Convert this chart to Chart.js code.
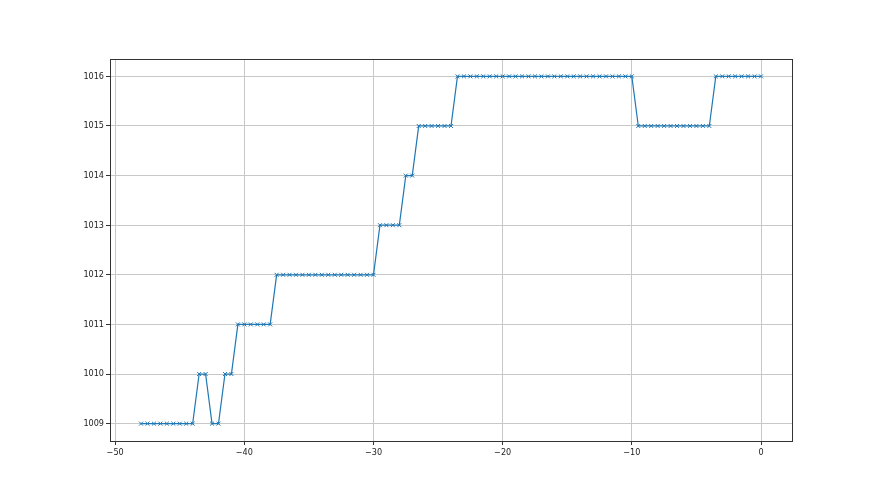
<!DOCTYPE html>
<html>
<head>
<meta charset="utf-8">
<script src="https://cdn.jsdelivr.net/npm/chart.js@4"></script>
<style>
  html, body { margin: 0; padding: 0; background: #fff; }
  canvas { display: block; }
</style>
</head>
<body>
<canvas id="line-chart" width="880" height="495"></canvas>
<script>
// hours before now, one reading every half hour
let hours = [];
for (let i = 0; i <= 96; i++) hours.push(-48 + i * 0.5);

// pressure readings (hPa)
let pressure = [
    1009, 1009, 1009, 1009, 1009, 1009, 1009, 1009, 1009,
    1010, 1010,
    1009, 1009,
    1010, 1010,
    1011, 1011, 1011, 1011, 1011, 1011,
    1012, 1012, 1012, 1012, 1012, 1012, 1012, 1012,
    1012, 1012, 1012, 1012, 1012, 1012, 1012, 1012,
    1013, 1013, 1013, 1013,
    1014, 1014,
    1015, 1015, 1015, 1015, 1015, 1015,
    1016, 1016, 1016, 1016, 1016, 1016, 1016, 1016, 1016, 1016,
    1016, 1016, 1016, 1016, 1016, 1016, 1016, 1016, 1016, 1016,
    1016, 1016, 1016, 1016, 1016, 1016, 1016, 1016,
    1015, 1015, 1015, 1015, 1015, 1015, 1015, 1015, 1015, 1015, 1015, 1015,
    1016, 1016, 1016, 1016, 1016, 1016, 1016, 1016
];

let xTicks = [-50, -40, -30, -20, -10, 0];
let yTicks = [1009, 1010, 1011, 1012, 1013, 1014, 1015, 1016];

let chart = null;

// matplotlib style frame around the plot area
const frame = {
    id: 'frame',
    afterDraw(c) {
        const a = c.chartArea;
        const ctx = c.ctx;
        ctx.save();
        ctx.strokeStyle = '#333';
        ctx.lineWidth = 1;
        ctx.strokeRect(a.left + 0.5, a.top + 0.5, a.right - a.left, a.bottom - a.top);
        ctx.restore();
    }
};

const tickFont = { family: "'DejaVu Sans Condensed', 'DejaVu Sans', sans-serif", size: 9 };

function initChart() {
    chart = new Chart(document.getElementById("line-chart"), {
        type: 'line',
        data: {
            datasets: [
                {
                    data: hours.map((h, i) => ({ x: h, y: pressure[i] })),
                    borderColor: "#1f77b4",
                    backgroundColor: "#1f77b4",
                    borderWidth: 1.2,
                    pointStyle: 'crossRot',
                    pointRadius: 2.8,
                    pointBorderWidth: 1,
                    pointHoverRadius: 2.8,
                    tension: 0,
                    fill: false
                }
            ]
        },
        options: {
            responsive: false,
            animation: false,
            events: [],
            layout: { padding: { left: 0, top: 59, right: 88, bottom: 0 } },
            plugins: {
                legend: { display: false },
                tooltip: { enabled: false }
            },
            scales: {
                x: {
                    type: 'linear',
                    min: -50.4,
                    max: 2.4,
                    afterBuildTicks: s => { s.ticks = xTicks.map(v => ({ value: v })); },
                    afterFit: s => { s.height = 54; },
                    grid: { color: '#c8c8c8', lineWidth: 1, tickColor: '#333', tickLength: 4 },
                    border: { display: false },
                    ticks: {
                        color: '#222',
                        padding: 2,
                        maxRotation: 0,
                        font: tickFont,
                        callback: v => String(v).replace('-', '\u2212')
                    }
                },
                y: {
                    min: 1008.65,
                    max: 1016.35,
                    afterBuildTicks: s => { s.ticks = yTicks.map(v => ({ value: v })); },
                    afterFit: s => { s.width = 110; },
                    grid: { color: '#c8c8c8', lineWidth: 1, tickColor: '#333', tickLength: 4 },
                    border: { display: false },
                    ticks: {
                        color: '#222',
                        padding: 2,
                        font: tickFont,
                        callback: v => String(v)
                    }
                }
            }
        },
        plugins: [frame]
    });
}

initChart();
</script>
</body>
</html>
